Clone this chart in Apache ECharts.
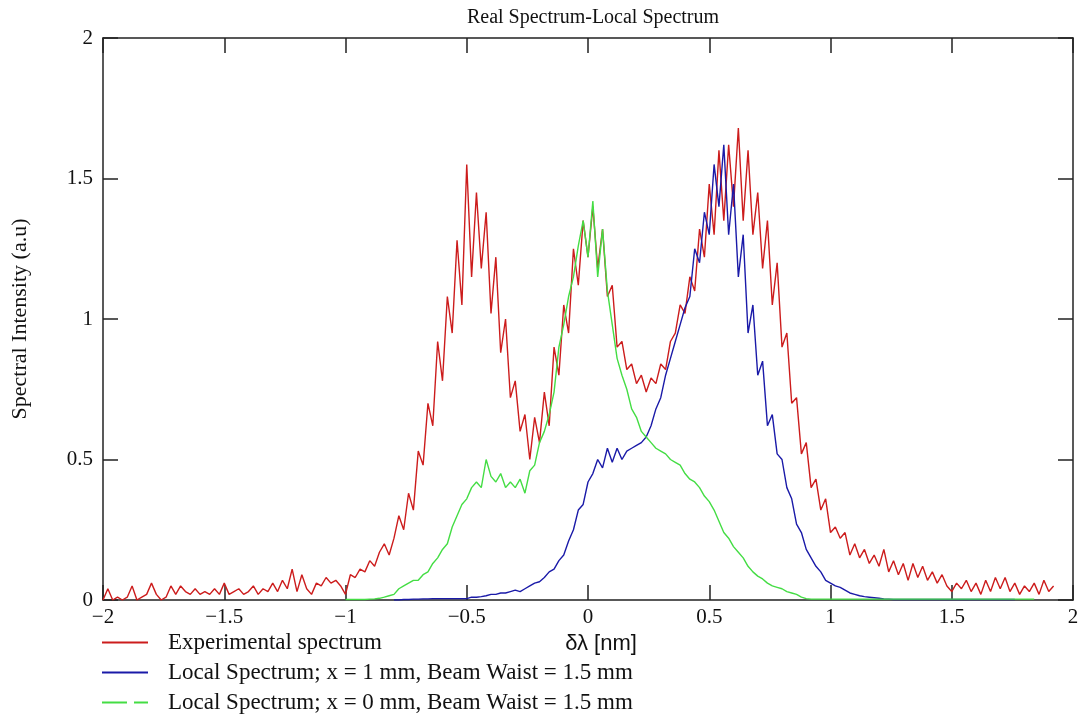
<!DOCTYPE html>
<html>
<head>
<meta charset="utf-8">
<script src="https://cdn.jsdelivr.net/npm/echarts@6/dist/echarts.min.js"></script>
<style>html,body{margin:0;padding:0;background:#fff}#c{width:1082px;height:719px}</style>
</head>
<body>
<div id="c"></div>
<script>
// sample grid (nm)
const X_STEP = 0.02;
const redStart = -2.00;
const blueStart = -0.80;
const greenStart = -1.00;

const seriesNames = [
  'Experimental spectrum',
  'Local Spectrum; x = 1 mm, Beam Waist = 1.5 mm',
  'Local Spectrum; x = 0 mm, Beam Waist = 1.5 mm'
];

const xTicks = [-2, -1.5, -1, -0.5, 0, 0.5, 1, 1.5, 2];
const yTicks = [0, 0.5, 1, 1.5, 2];

const redValues = [
  0.00,0.04,0.00,0.01,0.00,0.01,0.05,0.00,0.01,0.02,
  0.06,0.02,0.00,0.01,0.05,0.02,0.05,0.03,0.02,0.04,
  0.02,0.03,0.02,0.04,0.02,0.06,0.02,0.03,0.04,0.02,
  0.03,0.05,0.02,0.04,0.03,0.06,0.03,0.07,0.04,0.11,
  0.03,0.09,0.04,0.02,0.06,0.05,0.08,0.06,0.07,0.05,
  0.02,0.09,0.08,0.11,0.10,0.14,0.12,0.17,0.20,0.16,
  0.22,0.30,0.25,0.38,0.32,0.53,0.48,0.70,0.62,0.92,
  0.78,1.08,0.95,1.28,1.05,1.55,1.15,1.45,1.18,1.38,
  1.02,1.22,0.88,1.00,0.72,0.78,0.60,0.66,0.50,0.65,
  0.56,0.74,0.62,0.90,0.80,1.05,0.95,1.25,1.12,1.35,
  1.22,1.40,1.18,1.32,1.08,1.12,0.90,0.92,0.82,0.84,
  0.77,0.80,0.74,0.79,0.77,0.84,0.82,0.92,0.95,1.05,
  1.02,1.15,1.10,1.32,1.22,1.48,1.30,1.60,1.35,1.62,
  1.40,1.68,1.35,1.60,1.30,1.45,1.18,1.35,1.05,1.20,
  0.90,0.95,0.70,0.72,0.52,0.56,0.40,0.43,0.32,0.36,
  0.24,0.26,0.22,0.24,0.16,0.20,0.15,0.18,0.13,0.16,
  0.12,0.18,0.10,0.14,0.09,0.13,0.07,0.13,0.08,0.12,
  0.07,0.10,0.06,0.09,0.05,0.03,0.06,0.04,0.07,0.03,
  0.06,0.02,0.07,0.03,0.08,0.04,0.08,0.03,0.06,0.02,
  0.05,0.03,0.06,0.02,0.07,0.03,0.05
];

const blueValues = [
  0.000,0.000,0.002,0.002,0.003,0.003,0.004,0.004,0.005,0.005,
  0.005,0.005,0.005,0.005,0.005,
  0.005,0.010,0.010,0.012,0.015,0.020,0.020,0.025,0.025,0.030,
  0.035,0.030,0.040,0.050,0.060,0.065,0.080,0.100,0.110,0.140,
  0.160,0.210,0.250,0.320,0.340,0.420,0.450,0.500,0.470,0.540,
  0.490,0.540,0.500,0.530,0.540,0.550,0.560,0.580,0.620,0.680,
  0.720,0.800,0.860,0.920,0.980,1.040,1.080,1.250,1.200,1.380,
  1.300,1.550,1.400,1.620,1.300,1.480,1.150,1.300,0.950,1.050,
  0.800,0.850,0.620,0.660,0.520,0.500,0.400,0.360,0.270,0.240,
  0.180,0.150,0.120,0.100,0.070,0.060,0.050,0.045,0.035,0.025,
  0.020,0.015,0.012,0.010,0.008,0.006,0.004,0.003,0.002,0.002,
  0.002,0.002,0.002,0.002,0.002,0.002,0.002,0.002,0.002,0.002,
  0.002,0.002,0.002,0.002,0.002,0.002,0.002,0.002,0.002,0.002,
  0.002,0.002,0.002,0.002
];

const greenValues = [
  0.002,0.002,0.002,0.002,0.002,0.003,0.004,0.006,
  0.010,0.015,0.020,0.040,0.050,0.060,0.070,0.070,0.090,0.100,
  0.130,0.150,0.180,0.200,0.260,0.300,0.340,0.360,0.400,0.420,
  0.400,0.500,0.440,0.420,0.450,0.400,0.420,0.400,0.430,0.380,
  0.460,0.480,0.560,0.600,0.660,0.740,0.900,0.980,1.080,1.150,
  1.260,1.350,1.220,1.420,1.150,1.320,1.100,0.980,0.860,0.800,
  0.750,0.680,0.650,0.600,0.580,0.560,0.540,0.530,0.520,0.500,
  0.490,0.480,0.450,0.430,0.420,0.400,0.370,0.350,0.320,0.280,
  0.240,0.220,0.190,0.170,0.150,0.120,0.100,0.085,0.075,0.060,
  0.050,0.045,0.040,0.030,0.025,0.020,0.010,0.005,
  0.003,0.003,0.003,0.003,0.003,0.003,0.003,0.003,0.003,0.003,
  0.003,0.003,0.003,0.003,0.003,0.003,0.003,0.003,0.003,0.003,
  0.003,0.003,0.003,0.003,0.003,0.003,0.003,0.003,0.003,0.003,
  0.003,0.003,0.003,0.003,0.003,0.003,0.003,0.003,0.003,0.003,
  0.003,0.003,0.003,0.003,0.003,0.003,0.003
];

function toPairs(start, vals) {
  return vals.map((v, i) => [+(start + i * X_STEP).toFixed(3), v]);
}

const SERIF = '"Liberation Serif", "Times New Roman", serif';
const SANS = '"Liberation Sans", Arial, sans-serif';
const AX = '#222';
const fmtX = v => (v < 0 ? '\u2212' + Math.abs(v) : String(v));
const LINE_ICON = 'path://M0,0H46V2H0Z';
const DASH_ICON = 'path://M0,0H25V2H0Z M32,0H46V2H32Z';

const chart = echarts.init(document.getElementById('c'), null, {renderer: 'canvas'});
chart.setOption({
  backgroundColor: '#fff',
  animation: false,
  title: {
    text: 'Real Spectrum-Local Spectrum',
    left: 588, top: 3, textAlign: 'center',
    textStyle: {fontFamily: SERIF, fontSize: 20, fontWeight: 'normal', color: '#111'}
  },
  legend: {
    orient: 'vertical',
    left: 102, top: 631, padding: 0,
    itemWidth: 46, itemHeight: 2, itemGap: 7,
    data: [
      {name: seriesNames[0], icon: LINE_ICON},
      {name: seriesNames[1], icon: LINE_ICON},
      {name: seriesNames[2], icon: DASH_ICON}
    ],
    textStyle: {fontFamily: SERIF, fontSize: 23, color: '#111', padding: [0, 0, 0, 15]}
  },
  grid: {left: 103, right: 9, top: 38, bottom: 119, containLabel: false},
  xAxis: [{
    type: 'value', min: -2, max: 2, interval: 0.5,
    name: 'δλ [nm]', nameLocation: 'middle', nameGap: 26,
    nameTextStyle: {fontFamily: SANS, fontSize: 22, color: '#111', padding: [0, 0, 0, 26]},
    axisLine: {show: true, onZero: false, lineStyle: {color: AX, width: 1.5}},
    axisTick: {show: true, inside: true, length: 15, lineStyle: {color: AX, width: 1.5}},
    axisLabel: {fontFamily: SERIF, fontSize: 21, color: '#111', margin: 7, formatter: fmtX},
    splitLine: {show: false}
  }, {
    type: 'value', min: -2, max: 2, interval: 0.5, position: 'top',
    axisLine: {show: true, onZero: false, lineStyle: {color: AX, width: 1.5}},
    axisTick: {show: true, inside: true, length: 15, lineStyle: {color: AX, width: 1.5}},
    axisLabel: {show: false}, splitLine: {show: false}
  }],
  yAxis: [{
    type: 'value', min: 0, max: 2, interval: 0.5,
    name: 'Spectral Intensity (a.u)', nameLocation: 'middle', nameGap: 72, nameRotate: 90,
    nameTextStyle: {fontFamily: SERIF, fontSize: 22, color: '#111'},
    axisLine: {show: true, onZero: false, lineStyle: {color: AX, width: 1.5}},
    axisTick: {show: true, inside: true, length: 15, lineStyle: {color: AX, width: 1.5}},
    axisLabel: {fontFamily: SERIF, fontSize: 21, color: '#111', margin: 10},
    splitLine: {show: false}
  }, {
    type: 'value', min: 0, max: 2, interval: 0.5, position: 'right',
    axisLine: {show: true, onZero: false, lineStyle: {color: AX, width: 1.5}},
    axisTick: {show: true, inside: true, length: 15, lineStyle: {color: AX, width: 1.5}},
    axisLabel: {show: false}, splitLine: {show: false}
  }],
  series: [{
    name: seriesNames[0], type: 'line', showSymbol: false, symbol: 'none',
    data: toPairs(redStart, redValues),
    lineStyle: {color: '#cc1c1c', width: 1.4}, itemStyle: {color: '#cc1c1c'}
  }, {
    name: seriesNames[1], type: 'line', showSymbol: false, symbol: 'none',
    data: toPairs(blueStart, blueValues),
    lineStyle: {color: '#1a1aa8', width: 1.4}, itemStyle: {color: '#1a1aa8'}
  }, {
    name: seriesNames[2], type: 'line', showSymbol: false, symbol: 'none',
    data: toPairs(greenStart, greenValues),
    lineStyle: {color: '#44dd44', width: 1.4}, itemStyle: {color: '#44dd44'}
  }]
});
</script>
</body>
</html>
